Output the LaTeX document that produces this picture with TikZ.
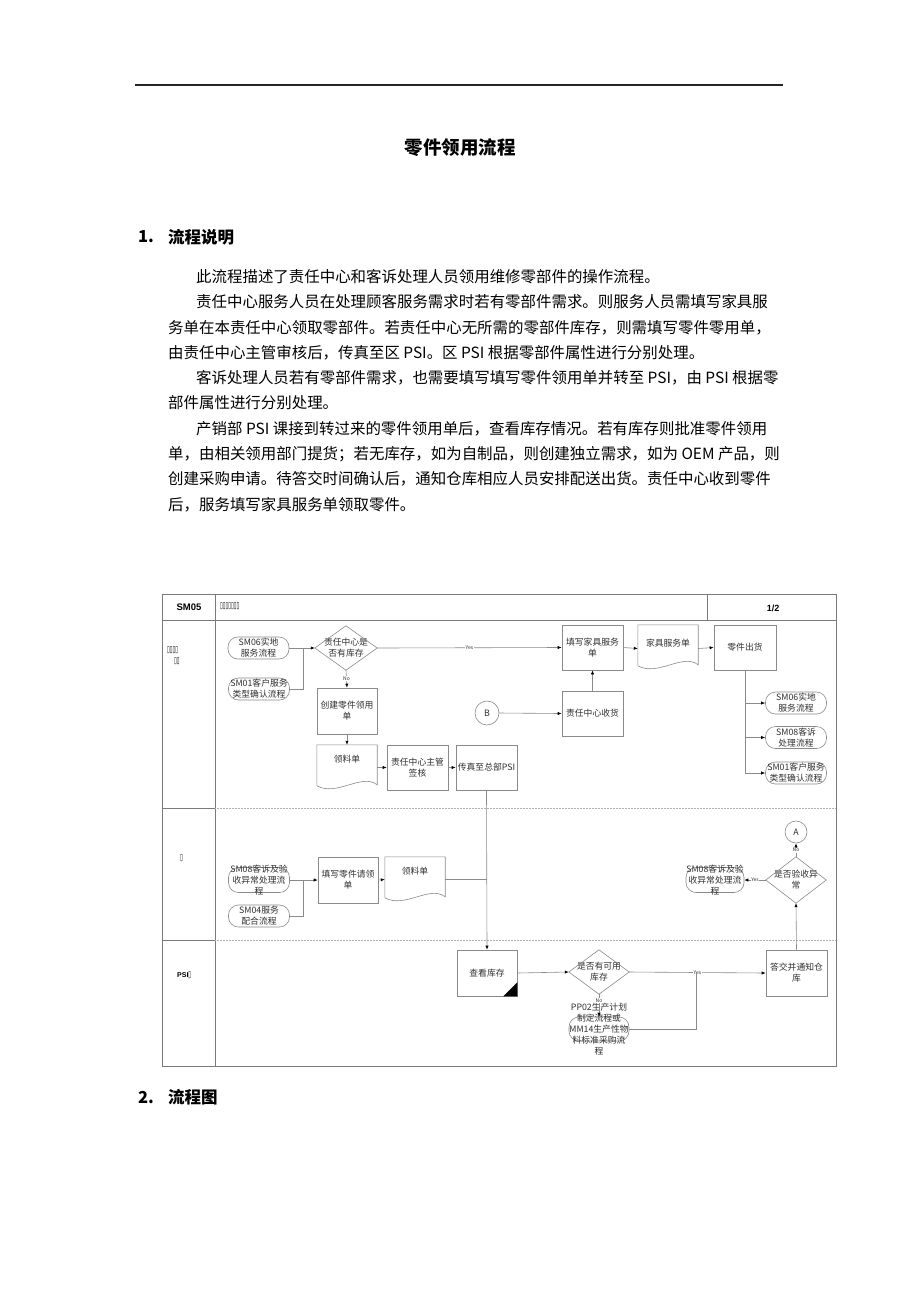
\documentclass[tikz,border=0pt]{standalone}
\usepackage{fontspec}
\setmainfont{Noto Sans CJK SC}
\newfontfamily\arialf{Liberation Sans}
\newfontfamily\dejavu{DejaVu Sans}
\usetikzlibrary{arrows.meta,calc}
\definecolor{lg}{HTML}{8A8A8A}
\definecolor{fg}{HTML}{7A7A7A}
\definecolor{tg}{HTML}{303030}
\newcommand{\dfont}{\fontsize{8.8}{11}\selectfont}
\newcommand{\bodyf}{\fontsize{15.45}{18}\selectfont}
\newcommand{\headf}{\fontsize{16.5}{19}\selectfont\bfseries}
\newcommand{\titlef}{\fontsize{18.5}{21}\selectfont\bfseries}
\newcommand{\ynf}{\fontsize{5}{6}\selectfont}
\newcommand{\tofu}{\dejavu\fontsize{9}{10}\selectfont\bfseries}
\newcommand{\tf}[1]{\scalebox{0.55}[1]{\tofu #1}}
\newcommand{\diam}[1]{\draw[boxline] (#1.north) -- (#1.east) -- (#1.south) -- (#1.west) -- cycle;}
\newcommand{\docpath}[1]{\draw[boxline] (#1.north west) -- (#1.north east) -- ($(#1.north east)+(0,40)$) .. controls ($(#1.north west)+(45,28)$) and ($(#1.north west)+(20,52)$) .. ($(#1.north west)+(0,41)$) -- cycle;}
\tikzset{
  boxline/.style={draw=lg, line width=0.6pt},
  box/.style={boxline, rectangle, minimum width=61pt, minimum height=45pt, inner sep=0pt, align=center, font=\dfont, text=tg},
  dia/.style={rectangle, draw=none, minimum width=61pt, minimum height=44pt, inner sep=0pt, align=center, font=\dfont, text=tg},
  docn/.style={rectangle, draw=none, minimum width=60pt, minimum height=45pt, inner sep=0pt},
  dtext/.style={font=\dfont, text=tg, inner sep=0pt, align=center},
  term/.style={boxline, rectangle, rounded corners=10pt, minimum width=61pt, minimum height=22pt, inner sep=0pt, align=center, font=\dfont, text=tg},
  tlab/.style={font=\dfont, text=tg, align=center, inner sep=0pt},
  conn/.style={draw=lg, line width=0.6pt},
  arr/.style={conn, -{Latex[length=4pt,width=3.2pt,color=black]}},
  yn/.style={font=\ynf, text=tg, fill=white, inner sep=0.6pt},
  frame/.style={draw=fg, line width=0.8pt},
  lane/.style={draw=black!30, line width=0.5pt, densely dotted},
  bl/.style={font=\bodyf, anchor=west, inner sep=0pt, text=black},
  circ/.style={boxline, circle, inner sep=0pt, font=\dfont, text=tg},
  tofun/.style={anchor=west, inner sep=0pt, text=black}
}
\begin{document}
\begin{tikzpicture}[x=1pt,y=-1pt]
\useasboundingbox (0,0) rectangle (920,1302);
\fill[white] (0,0) rectangle (920,1302);

% page header
\draw[line width=1.1pt, black!85] (135,85) -- (783,85);
\node[font=\titlef, inner sep=0pt] (title) at (460,148) {零件领用流程};
\node[font=\headf, anchor=west, inner sep=0pt] (h1n) at (138,237) {1.};
\node[font=\headf, anchor=west, inner sep=0pt] (h1) at (168,237) {流程说明};

\node[bl] (l1) at (196,277) {此流程描述了责任中心和客诉处理人员领用维修零部件的操作流程。};
\node[bl] (l2) at (196,302) {责任中心服务人员在处理顾客服务需求时若有零部件需求。则服务人员需填写家具服};
\node[bl] (l3) at (168,328) {务单在本责任中心领取零部件。若责任中心无所需的零部件库存，则需填写零件零用单，};
\node[bl] (l4) at (168,353) {由责任中心主管审核后，传真至区 PSI。区 PSI 根据零部件属性进行分别处理。};
\node[bl] (l5) at (196,378) {客诉处理人员若有零部件需求，也需要填写填写零件领用单并转至 PSI，由 PSI 根据零};
\node[bl] (l6) at (168,403) {部件属性进行分别处理。};
\node[bl] (l7) at (196,429) {产销部 PSI 课接到转过来的零件领用单后，查看库存情况。若有库存则批准零件领用};
\node[bl] (l8) at (168,454) {单，由相关领用部门提货；若无库存，如为自制品，则创建独立需求，如为 OEM 产品，则};
\node[bl] (l9) at (168,479) {创建采购申请。待答交时间确认后，通知仓库相应人员安排配送出货。责任中心收到零件};
\node[bl] (l10) at (168,505) {后，服务填写家具服务单领取零件。};

\node[font=\headf, anchor=west, inner sep=0pt] (h2n) at (138,1097) {2.};
\node[font=\headf, anchor=west, inner sep=0pt] (h2) at (168,1097) {流程图};

% diagram frame
\draw[frame] (162,594) rectangle (836,1066);
\draw[frame] (162,620) -- (836,620);
\draw[frame] (215,594) -- (215,1066);
\draw[frame] (707,594) -- (707,620);
\draw[frame] (162,808) -- (215,808);
\draw[frame] (162,940) -- (215,940);
\draw[lane] (215,808) -- (836,808);
\draw[lane] (215,940) -- (836,940);

\node[font=\arialf\fontsize{9.5}{11}\selectfont\bfseries, inner sep=0pt] (hsm) at (189,607) {SM05};
\node[tofun] (htitle) at (220,606) {\tf{▯▯▯▯▯▯▯}};
\node[font=\arialf\fontsize{9}{11}\selectfont\bfseries, inner sep=0pt] (hpg) at (773,608) {1/2};
\node[tofun] (ln1a) at (167,650) {\tf{▯▯▯▯}};
\node[tofun] (ln1b) at (174,661) {\tf{▯▯}};
\node[tofun] (ln2) at (180,858) {\tf{▯}};
\node[font=\arialf\fontsize{7}{8}\selectfont\bfseries, anchor=west, inner sep=0pt] (ln3) at (177,975) {PSI\tf{▯}};

% lane 1
\node[term] (s1) at (258.5,648) {SM06实地\\服务流程};
\node[term] (s2) at (259,689) {SM01客户服务\\类型确认流程};
\coordinate (j1) at (303,648);
\node[dia, minimum width=62pt] (d1) at (346,648) {责任中心是\\否有库存};
\diam{d1}
\node[box, minimum width=60pt, minimum height=46pt] (b1) at (347,711) {创建零件领用\\单};
\node[docn] (doc1) at (347,767.5) {};
\docpath{doc1}
\node[dtext] (doc1t) at ($(doc1.north)+(0,14)$) {领料单};
\node[box] (b2) at (417.5,767.5) {责任中心主管\\签核};
\node[box] (b3) at (486.5,767.5) {传真至总部PSI};
\node[box] (b4) at (592.5,647.5) {填写家具服务\\单};
\node[docn, minimum height=47pt] (doc2) at (668,648.5) {};
\docpath{doc2}
\node[dtext] (doc2t) at ($(doc2.north)+(0,18)$) {家具服务单};
\node[box, minimum width=62pt] (b5) at (745,647.5) {零件出货};
\node[box] (b6) at (592.5,713.5) {责任中心收货};
\node[circ, minimum size=24pt] (cB) at (487,713) {B};
\node[term] (t3) at (796,703) {SM06实地\\服务流程};
\node[term] (t4) at (796,737.5) {SM08客诉\\处理流程};
\node[term] (t5) at (796,773) {SM01客户服务\\类型确认流程};

% lane 2
\node[term, minimum height=25pt, label={[tlab]center:SM08客诉及验\\收异常处理流\\程}] (t6) at (259,880) {};
\node[term] (t7) at (259,916) {SM04服务\\配合流程};
\coordinate (j2) at (303,880);
\node[box, minimum width=60pt, minimum height=46pt] (b7) at (348,880) {填写零件请领\\单};
\node[docn] (doc3) at (415,879.5) {};
\docpath{doc3}
\node[dtext] (doc3t) at ($(doc3.north)+(0,14)$) {领料单};
\node[circ, minimum size=22pt] (cA) at (796,832) {A};
\node[dia, minimum width=60pt, minimum height=46pt] (d2) at (796,880) {是否验收异\\常};
\diam{d2}
\node[term, minimum width=58pt, minimum height=25pt, label={[tlab]center:SM08客诉及验\\收异常处理流\\程}] (t8) at (715,880) {};

% lane 3
\node[box, minimum width=60pt, minimum height=46pt] (b8) at (487,973) {查看库存};
\fill[black] (b8.south east) -- ++(-14,0) -- ++(14,-14) -- cycle;
\node[dia, minimum width=60pt, minimum height=44pt] (d3) at (599,972) {是否有可用\\库存};
\diam{d3}
\node[term, minimum width=60pt, minimum height=24pt, label={[tlab]center:PP02生产计划\\制定流程或\\MM14生产性物\\料标准采购流\\程}] (t9) at (599,1029) {};
\coordinate (j3) at (696,972);
\node[box, minimum height=46pt] (b9) at (796.5,973) {答交并通知仓\\库};

% connectors lane 1
\draw[arr] (s1.east) -- (d1.west);
\draw[conn] (s2.east) -| (j1);
\draw[arr] (d1.east) -- node[yn] {Yes} (b4.west);
\draw[arr] (d1.south) -- node[yn] {No} (b1.north);
\draw[arr] (b1.south) -- (doc1.north);
\draw[arr] (doc1.east) -- (b2.west);
\draw[arr] (b2.east) -- (b3.west);
\draw[arr] (b3.south) -- (b8.north);
\draw[arr] (cB.east) -- (b6.west);
\draw[arr] (b6.north) -- (b4.south);
\draw[arr] (b4.east) -- (doc2.west);
\draw[arr] (doc2.east) -- (b5.west);
\draw[arr] (b5.south) |- (t3.west);
\draw[arr] (b5.south) |- (t4.west);
\draw[arr] (b5.south) |- (t5.west);

% connectors lane 2
\draw[arr] (t6.east) -- (b7.west);
\draw[conn] (t7.east) -| (j2);
\draw[arr] (b7.east) -- (doc3.west);
\draw[conn] (doc3.east) -- (doc3.east -| b3.south);
\draw[arr] (d2.north) -- node[yn] {No} (cA.south);
\draw[arr] (d2.west) -- node[yn] {Yes} (t8.east);
\draw[arr] (b9.north) -- (d2.south);

% connectors lane 3
\draw[arr] (b8.east) -- (d3.west);
\draw[arr] (d3.east) -- node[yn] {Yes} (b9.west);
\draw[arr] (d3.south) -- node[yn, pos=0.3] {No} (t9.north);
\draw[conn] (t9.east) -| (j3);
\end{tikzpicture}
\end{document}
